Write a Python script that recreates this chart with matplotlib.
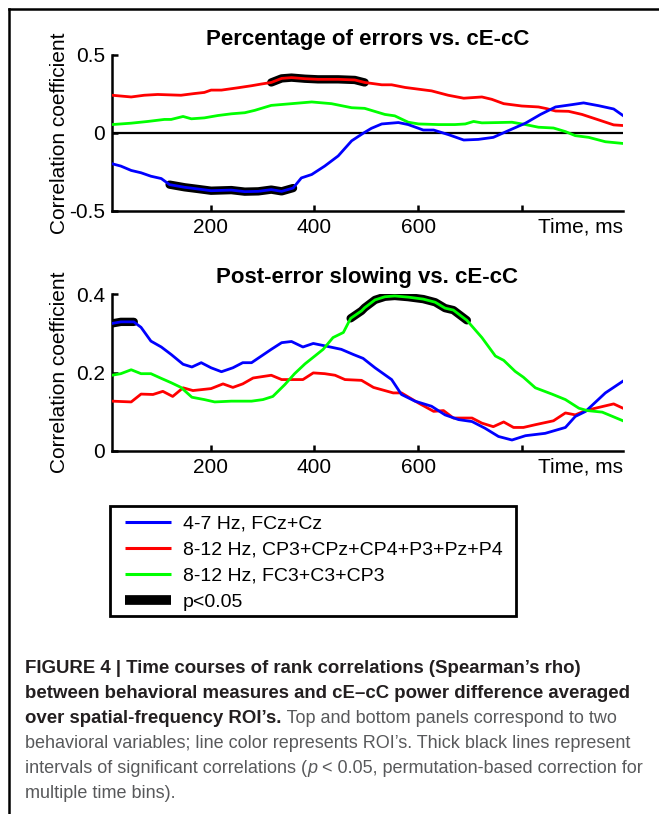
import numpy as np
import matplotlib
matplotlib.use('Agg')
import matplotlib.pyplot as plt
from matplotlib.lines import Line2D
from matplotlib.patches import Rectangle

plt.rcParams['font.family'] = ['Liberation Sans', 'DejaVu Sans']

BLUE = '#0000ff'
RED = '#ff0000'
GREEN = '#00ff00'

# ---------------- data ----------------
x_ticks = [200, 400, 600, 800]
x_ticklabels = ['200', '400', '600', '']

# Top panel: Percentage of errors vs. cE-cC
top_blue_t = [10, 27, 47, 66, 85, 105, 121, 150, 176, 201, 240, 266, 292, 317, 337, 359, 375, 395,
              420, 446, 472, 494, 510, 530, 562, 581, 610, 630, 659, 688, 716, 745, 774, 807, 836,
              865, 897, 919, 948, 977, 995]
top_blue_v = [-0.197, -0.212, -0.240, -0.255, -0.277, -0.292, -0.331, -0.348, -0.359, -0.370, -0.366,
              -0.376, -0.374, -0.363, -0.374, -0.353, -0.288, -0.266, -0.212, -0.147, -0.050, -0.002,
              0.030, 0.058, 0.067, 0.054, 0.019, 0.019, -0.011, -0.045, -0.041, -0.028, 0.015, 0.063,
              0.119, 0.167, 0.182, 0.193, 0.175, 0.154, 0.112]

top_red_t = [10, 47, 72, 98, 143, 169, 188, 201, 221, 253, 279, 298, 317, 337, 356, 382, 407, 446,
             478, 497, 530, 549, 575, 626, 658, 688, 723, 742, 765, 800, 832, 848, 865, 890, 916,
             948, 977, 995]
top_red_v = [0.242, 0.231, 0.242, 0.247, 0.242, 0.253, 0.260, 0.275, 0.275, 0.290, 0.303, 0.314,
             0.324, 0.350, 0.355, 0.348, 0.344, 0.344, 0.340, 0.324, 0.309, 0.309, 0.292, 0.270,
             0.242, 0.223, 0.231, 0.216, 0.188, 0.173, 0.167, 0.156, 0.141, 0.139, 0.119, 0.084,
             0.052, 0.048]

top_green_t = [10, 47, 79, 111, 124, 147, 163, 188, 214, 240, 266, 285, 317, 356, 395, 433, 472, 497,
               536, 555, 581, 601, 639, 671, 691, 707, 723, 755, 781, 807, 832, 861, 884, 903, 929,
               961, 995]
top_green_v = [0.054, 0.063, 0.074, 0.087, 0.087, 0.106, 0.091, 0.097, 0.112, 0.123, 0.130, 0.145,
               0.177, 0.188, 0.199, 0.188, 0.162, 0.158, 0.119, 0.110, 0.069, 0.058, 0.054, 0.054,
               0.058, 0.074, 0.065, 0.067, 0.069, 0.054, 0.037, 0.032, 0.009, -0.017, -0.028,
               -0.056, -0.067]

top_blue_sig = (121, 359)
top_red_sig = (317, 497)

# Bottom panel: Post-error slowing vs. cE-cC
bot_blue_t = [10, 27, 52, 66, 85, 105, 124, 147, 164, 182, 201, 221, 243, 262, 279, 298, 317, 337,
              356, 378, 398, 420, 452, 475, 494, 517, 549, 568, 594, 626, 652, 678, 704, 729, 755,
              781, 807, 845, 884, 903, 923, 961, 995]
bot_blue_v = [0.325, 0.329, 0.329, 0.315, 0.280, 0.265, 0.246, 0.221, 0.214, 0.225, 0.212, 0.202,
              0.212, 0.225, 0.225, 0.242, 0.259, 0.276, 0.279, 0.265, 0.274, 0.268, 0.259, 0.246,
              0.236, 0.212, 0.182, 0.144, 0.127, 0.114, 0.092, 0.080, 0.075, 0.058, 0.037, 0.028,
              0.039, 0.045, 0.060, 0.088, 0.101, 0.148, 0.178]

bot_red_t = [10, 47, 66, 89, 108, 127, 147, 166, 201, 224, 243, 262, 282, 317, 337, 378, 398, 420,
             440, 459, 491, 514, 552, 568, 601, 630, 649, 668, 704, 723, 745, 765, 784, 803, 826,
             861, 884, 903, 923, 948, 977, 995]
bot_red_v = [0.127, 0.125, 0.145, 0.144, 0.152, 0.139, 0.161, 0.154, 0.159, 0.171, 0.162, 0.171,
             0.186, 0.193, 0.182, 0.182, 0.199, 0.197, 0.193, 0.182, 0.180, 0.162, 0.148, 0.148,
             0.122, 0.101, 0.103, 0.084, 0.084, 0.071, 0.062, 0.074, 0.060, 0.060, 0.067, 0.077,
             0.097, 0.092, 0.103, 0.111, 0.120, 0.109]

bot_green_t = [10, 27, 47, 66, 85, 105, 124, 143, 164, 188, 208, 240, 279, 301, 320, 343, 362, 382,
               401, 417, 436, 456, 470, 491, 497, 517, 536, 555, 581, 610, 633, 652, 668, 694, 723,
               749, 765, 787, 803, 826, 858, 884, 910, 926, 955, 995]
bot_green_v = [0.193, 0.197, 0.207, 0.197, 0.197, 0.185, 0.174, 0.162, 0.137, 0.131, 0.125, 0.127,
               0.127, 0.131, 0.139, 0.169, 0.197, 0.222, 0.242, 0.259, 0.289, 0.302, 0.338, 0.357,
               0.365, 0.385, 0.393, 0.395, 0.392, 0.387, 0.379, 0.364, 0.359, 0.333, 0.289, 0.242,
               0.231, 0.203, 0.188, 0.161, 0.145, 0.131, 0.109, 0.103, 0.099, 0.077]

bot_blue_sig = (10, 52)
bot_green_sig = (470, 694)

legend_labels = ['4-7 Hz, FCz+Cz', '8-12 Hz, CP3+CPz+CP4+P3+Pz+P4',
                 '8-12 Hz, FC3+C3+CP3', 'p<0.05']

# ---------------- figure ----------------
W, H = 659, 814
fig = plt.figure(figsize=(W / 100, H / 100), dpi=100)

ax1 = fig.add_axes([112 / W, 1 - 211 / H, 511 / W, 156 / H])
ax2 = fig.add_axes([112 / W, 1 - 451 / H, 511 / W, 157 / H])

LW = 2.0
SIG_LW = 6.0


def draw(ax, t, v, color, sig=None):
    t = np.asarray(t, float)
    v = np.asarray(v, float)
    if sig is not None:
        m = (t >= sig[0]) & (t <= sig[1])
        ax.plot(t[m], v[m], color='black', lw=SIG_LW, solid_capstyle='round', zorder=3)
    ax.plot(t, v, color=color, lw=LW, zorder=4)


def style(ax, yticks, ylabels, ylim, title, title_pad):
    ax.set_xlim(10, 995)
    ax.set_ylim(*ylim)
    for s in ['top', 'right']:
        ax.spines[s].set_visible(False)
    for s in ['left', 'bottom']:
        ax.spines[s].set_linewidth(1.8)
    ax.set_xticks(x_ticks)
    ax.set_xticklabels(x_ticklabels)
    ax.set_yticks(yticks)
    ax.set_yticklabels(ylabels)
    ax.tick_params(direction='in', length=4, width=1.8, labelsize=15, pad=5)
    ax.set_title(title, fontsize=16, fontweight='bold', pad=title_pad)
    ax.set_ylabel('Correlation coefficient', fontsize=15)
    ax.yaxis.set_label_coords(-0.085, 0.5)
    ax.annotate('Time, ms', xy=(1, 0), xycoords='axes fraction', xytext=(0, -5),
                textcoords='offset points', ha='right', va='top', fontsize=15)


# top panel
ax1.axhline(0, color='black', lw=1.6, zorder=2)
draw(ax1, top_green_t, top_green_v, GREEN)
draw(ax1, top_red_t, top_red_v, RED, top_red_sig)
draw(ax1, top_blue_t, top_blue_v, BLUE, top_blue_sig)
style(ax1, [-0.5, 0, 0.5], ['-0.5', '0', '0.5'], (-0.5, 0.5),
      'Percentage of errors vs. cE-cC', 7)

# bottom panel
draw(ax2, bot_red_t, bot_red_v, RED)
draw(ax2, bot_blue_t, bot_blue_v, BLUE, bot_blue_sig)
draw(ax2, bot_green_t, bot_green_v, GREEN, bot_green_sig)
style(ax2, [0, 0.2, 0.4], ['0', '0.2', '0.4'], (0, 0.4),
      'Post-error slowing vs. cE-cC', 8)

# legend (content) + its box
handles = [Line2D([], [], color=BLUE, lw=2.2, solid_capstyle='butt'),
           Line2D([], [], color=RED, lw=2.2, solid_capstyle='butt'),
           Line2D([], [], color=GREEN, lw=2.2, solid_capstyle='butt'),
           Line2D([], [], color='black', lw=7, solid_capstyle='butt')]
leg = fig.legend(handles, legend_labels, loc='upper left',
                 bbox_to_anchor=(125 / W, 1 - 515 / H), bbox_transform=fig.transFigure,
                 fontsize=14, handlelength=2.37, handletextpad=0.62, borderpad=0,
                 labelspacing=0.43, borderaxespad=0, frameon=False)
fig.add_artist(Rectangle((110 / W, 1 - 616 / H), 406 / W, 110 / H, transform=fig.transFigure,
                         fill=False, edgecolor='black', lw=2.0))

# figure frame lines (left and top)
fig.add_artist(Line2D([9 / W, 9 / W], [0, 1 - 9 / H], transform=fig.transFigure,
                      color='black', lw=1.8))
fig.add_artist(Line2D([9 / W, 1], [1 - 9 / H, 1 - 9 / H], transform=fig.transFigure,
                      color='black', lw=1.8))

# caption
DARK = '#231f20'
GRAY = '#58595b'
BFS = 13.4
RFS = 13
cx = 25 / W


def cy(px):
    return 1 - px / H


fig.text(cx, cy(673), 'FIGURE 4 | Time courses of rank correlations (Spearman’s rho)',
         fontsize=BFS, fontweight='bold', color=DARK, va='baseline')
fig.text(cx, cy(698), 'between behavioral measures and cE–cC power difference averaged',
         fontsize=BFS, fontweight='bold', color=DARK, va='baseline')
t3 = fig.text(cx, cy(723), 'over spatial-frequency ROI’s.',
              fontsize=BFS, fontweight='bold', color=DARK, va='baseline')
t3b = plt.annotate(' Top and bottom panels correspond to two', xy=(1, 0), xycoords=t3,
                   fontsize=RFS, color=GRAY, va='bottom', ha='left', annotation_clip=False)
fig.text(cx, cy(748), 'behavioral variables; line color represents ROI’s. Thick black lines represent',
         fontsize=RFS, color=GRAY, va='baseline')
t5a = fig.text(cx, cy(773), 'intervals of significant correlations (',
               fontsize=RFS, color=GRAY, va='baseline')
t5b = plt.annotate('p', xy=(1, 0), xycoords=t5a, fontsize=RFS, color=GRAY,
                   style='italic', va='bottom', ha='left', annotation_clip=False)
plt.annotate(' < 0.05, permutation-based correction for', xy=(1, 0), xycoords=t5b,
             fontsize=RFS, color=GRAY, va='bottom', ha='left', annotation_clip=False)
fig.text(cx, cy(798), 'multiple time bins).', fontsize=RFS, color=GRAY, va='baseline')

fig.savefig('out.png', dpi=100)
